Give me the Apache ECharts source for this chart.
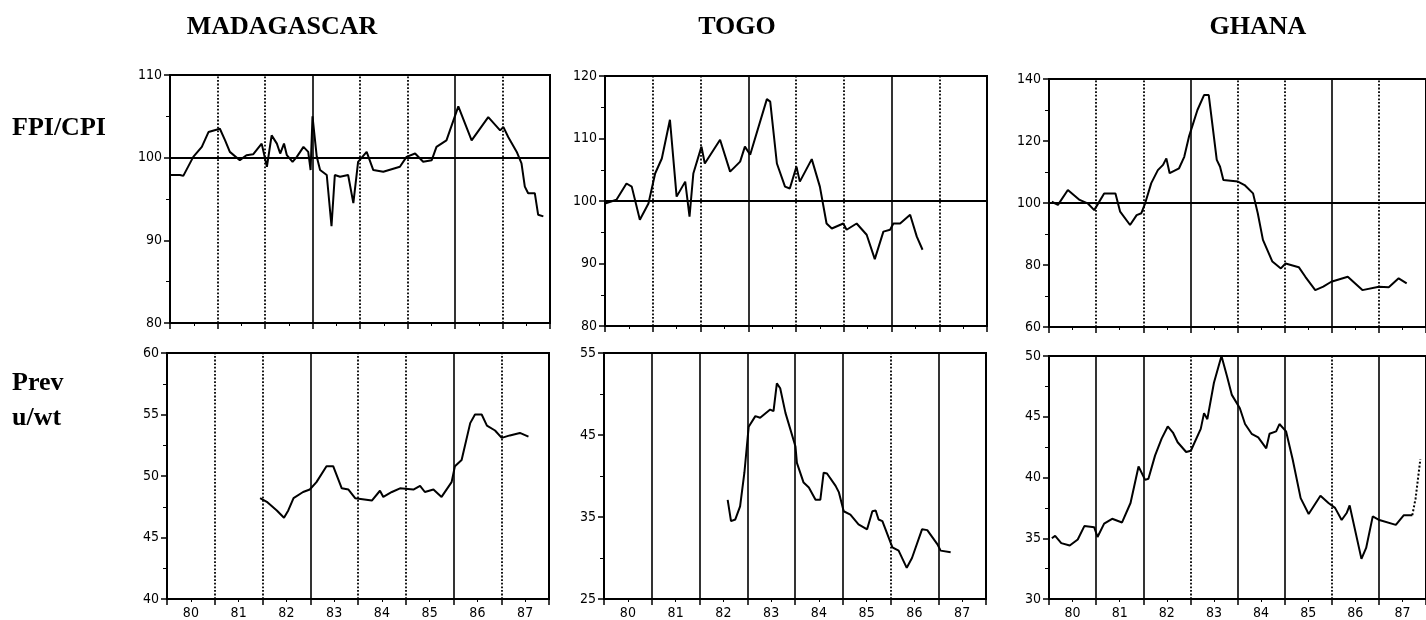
<!DOCTYPE html>
<html>
<head>
<meta charset="utf-8">
<script src="https://cdn.jsdelivr.net/npm/echarts@6/dist/echarts.min.js"></script>
<style>
html,body{margin:0;padding:0;background:#fff;}
#chart{width:1426px;height:620px;}
</style>
</head>
<body>
<div id="chart"></div>
<script>
// ---------- DATA ----------
const countries = ['MADAGASCAR', 'TOGO', 'GHANA'];
const rowLabelTop = 'FPI/CPI';
const rowLabelBottom = ['Prev', 'u/wt'];
const yearTickValues = [1981, 1982, 1983, 1984, 1985, 1986, 1987];
const yearLabels = ['80', '81', '82', '83', '84', '85', '86', '87'];

const madagascarFpiCpi = [
  [1980.02,97.9],[1980.21,97.9],[1980.28,97.8],[1980.49,100.1],[1980.67,101.3],[1980.81,103.1],
  [1981.05,103.5],[1981.16,102.1],[1981.26,100.7],[1981.47,99.7],[1981.61,100.3],[1981.75,100.4],
  [1981.93,101.7],[1982.04,98.9],[1982.14,102.7],[1982.25,101.7],[1982.32,100.5],[1982.40,101.7],
  [1982.46,100.3],[1982.58,99.5],[1982.67,100.1],[1982.81,101.3],[1982.91,100.7],[1982.96,98.5],
  [1983.00,105.0],[1983.09,100.1],[1983.16,98.5],[1983.30,97.9],[1983.40,91.7],[1983.47,97.9],
  [1983.58,97.7],[1983.75,97.9],[1983.86,94.5],[1983.96,99.5],[1984.14,100.7],[1984.28,98.5],
  [1984.49,98.3],[1984.84,98.9],[1984.98,100.1],[1985.16,100.5],[1985.33,99.5],[1985.51,99.7],
  [1985.61,101.3],[1985.82,102.1],[1986.07,106.2],[1986.35,102.1],[1986.70,104.9],[1986.95,103.3],
  [1987.02,103.7],[1987.12,102.5],[1987.30,100.7],[1987.40,99.3],[1987.47,96.5],[1987.54,95.7],
  [1987.68,95.7],[1987.75,93.1],[1987.86,92.9]
];
const madagascarPrev = [
  [1981.95,48.2],[1982.09,47.9],[1982.30,47.2],[1982.45,46.6],[1982.54,47.2],[1982.65,48.2],
  [1982.85,48.7],[1982.99,48.9],[1983.13,49.5],[1983.34,50.8],[1983.48,50.8],[1983.66,49.0],
  [1983.80,48.9],[1983.94,48.2],[1984.29,48.0],[1984.46,48.8],[1984.53,48.3],[1984.71,48.7],
  [1984.88,49.0],[1985.16,48.9],[1985.30,49.2],[1985.40,48.7],[1985.58,48.9],[1985.75,48.3],
  [1985.96,49.5],[1986.03,50.8],[1986.17,51.3],[1986.35,54.3],[1986.45,55.0],[1986.59,55.0],
  [1986.70,54.1],[1986.87,53.7],[1987.01,53.1],[1987.18,53.3],[1987.39,53.5],[1987.57,53.2]
];
const togoFpiCpi = [
  [1980.00,99.6],[1980.24,100.2],[1980.45,102.8],[1980.56,102.3],[1980.73,97.0],[1980.91,99.6],
  [1981.05,104.4],[1981.19,106.8],[1981.36,113.0],[1981.50,100.7],[1981.68,103.1],[1981.77,97.5],
  [1981.85,104.4],[1982.02,108.7],[1982.09,106.0],[1982.41,109.8],[1982.62,104.7],[1982.83,106.3],
  [1982.93,108.7],[1983.04,107.4],[1983.39,116.3],[1983.46,115.9],[1983.60,106.0],[1983.77,102.3],
  [1983.87,102.0],[1984.01,105.5],[1984.08,103.1],[1984.33,106.7],[1984.50,102.3],[1984.64,96.4],
  [1984.75,95.6],[1984.99,96.4],[1985.06,95.4],[1985.27,96.4],[1985.48,94.6],[1985.65,90.7],
  [1985.83,95.1],[1985.97,95.4],[1986.04,96.4],[1986.18,96.4],[1986.39,97.8],[1986.53,94.3],
  [1986.65,92.2]
];
const togoPrev = [
  [1982.59,37.1],[1982.66,34.5],[1982.75,34.7],[1982.85,36.3],[1982.94,40.4],[1983.03,46.0],
  [1983.17,47.3],[1983.27,47.1],[1983.48,48.1],[1983.55,47.9],[1983.62,51.3],[1983.69,50.7],
  [1983.80,47.7],[1984.01,43.6],[1984.04,41.6],[1984.18,39.2],[1984.29,38.6],[1984.43,37.1],
  [1984.53,37.1],[1984.60,40.4],[1984.67,40.3],[1984.85,38.8],[1984.92,38.0],[1985.02,35.7],
  [1985.16,35.3],[1985.33,34.1],[1985.51,33.5],[1985.62,35.7],[1985.69,35.8],[1985.75,34.7],
  [1985.83,34.5],[1986.04,31.3],[1986.17,30.9],[1986.34,28.8],[1986.45,30.0],[1986.66,33.5],
  [1986.77,33.4],[1986.98,31.7],[1987.05,30.9],[1987.26,30.7]
];
const ghanaFpiCpi = [
  [1980.06,100.4],[1980.19,99.4],[1980.40,104.2],[1980.65,101.0],[1980.82,99.9],[1980.96,97.7],
  [1981.17,103.1],[1981.41,103.1],[1981.51,97.2],[1981.72,92.9],[1981.86,96.1],[1981.96,96.7],
  [1982.04,99.9],[1982.17,106.4],[1982.31,110.6],[1982.42,112.3],[1982.49,114.4],[1982.56,109.6],
  [1982.76,111.2],[1982.87,114.9],[1982.97,121.4],[1983.15,130.0],[1983.29,134.8],[1983.39,134.8],
  [1983.56,113.9],[1983.63,111.7],[1983.70,107.4],[1984.01,106.9],[1984.15,105.8],[1984.33,103.1],
  [1984.43,96.7],[1984.54,88.1],[1984.74,81.1],[1984.92,78.9],[1985.02,80.5],[1985.30,79.3],
  [1985.44,76.2],[1985.65,71.9],[1985.82,73.0],[1985.99,74.6],[1986.34,76.2],[1986.65,71.9],
  [1987.00,73.0],[1987.21,72.8],[1987.42,75.7],[1987.59,74.1]
];
const ghanaPrev = [
  [1980.06,35.0],[1980.13,35.2],[1980.26,34.6],[1980.44,34.4],[1980.61,34.9],[1980.75,36.0],
  [1980.96,35.9],[1981.03,35.1],[1981.17,36.2],[1981.34,36.6],[1981.55,36.3],[1981.73,37.9],
  [1981.90,40.9],[1982.04,39.8],[1982.11,39.9],[1982.25,41.8],[1982.39,43.2],[1982.52,44.2],
  [1982.63,43.7],[1982.73,42.9],[1982.91,42.1],[1983.01,42.2],[1983.22,44.0],[1983.29,45.3],
  [1983.36,44.8],[1983.50,47.8],[1983.66,50.0],[1983.78,48.3],[1983.88,46.8],[1984.05,45.7],
  [1984.16,44.4],[1984.30,43.6],[1984.44,43.3],[1984.61,42.4],[1984.68,43.6],[1984.82,43.8],
  [1984.89,44.4],[1985.03,43.8],[1985.17,41.5],[1985.34,38.3],[1985.51,37.0],[1985.76,38.5],
  [1985.93,37.9],[1986.07,37.5],[1986.21,36.5],[1986.32,37.1],[1986.38,37.7],[1986.63,33.3],
  [1986.73,34.2],[1986.87,36.8],[1987.01,36.5],[1987.36,36.1],[1987.53,36.9],[1987.71,36.9]
];
const ghanaPrevDotted = [[1987.71,36.9],[1987.78,38.3],[1987.88,41.5]];

// ---------- LAYOUT / STYLE ----------
const S = 'solid', D = 'dotted';
const panels = [
  {grid:{left:170,top:75,width:380,height:248}, y:[80,110,10], data:madagascarFpiCpi, ref:100, v:[D,D,S,D,D,S,D], labels:false},
  {grid:{left:167,top:353,width:382,height:246}, y:[40,60,5], data:madagascarPrev, v:[D,D,S,D,D,S,D], labels:true},
  {grid:{left:605,top:76,width:382,height:250}, y:[80,120,10], data:togoFpiCpi, ref:100, v:[D,D,S,D,D,S,D], labels:false},
  {grid:{left:604,top:353,width:382,height:247}, y:[25,55,10], data:togoPrev, v:[S,S,S,S,S,D,S], labels:true},
  {grid:{left:1049,top:79,width:384,height:248}, y:[60,140,20], data:ghanaFpiCpi, ref:100, v:[D,D,S,D,D,S,D], labels:false},
  {grid:{left:1049,top:356,width:384,height:246}, y:[30,50,5], data:ghanaPrev, extra:ghanaPrevDotted, v:[S,S,D,S,S,D,S], labels:true}
];

const tickFont = '"DejaVu Sans Condensed","Liberation Sans Narrow","DejaVu Sans",sans-serif';
const grids = [], xAxes = [], yAxes = [], series = [];
panels.forEach((p, i) => {
  grids.push(Object.assign({show:true, borderColor:'#000', borderWidth:2, backgroundColor:'transparent'}, p.grid));
  xAxes.push({
    type:'value', gridIndex:i, min:1980, max:1988, interval:1, position:'bottom',
    axisLine:{show:true, lineStyle:{color:'#000', width:2}},
    axisTick:{show:true, length:6, lineStyle:{color:'#000', width:1.5}},
    minorTick:{show:true, splitNumber:2, length:3, lineStyle:{color:'#000', width:1}},
    axisLabel:{show:false}, splitLine:{show:false}
  });
  xAxes.push({
    type:'category', gridIndex:i, data:yearLabels, boundaryGap:true, position:'bottom', offset:0,
    axisLine:{show:false}, axisTick:{show:false}, splitLine:{show:false},
    axisLabel:{show:p.labels, margin:7, color:'#000', fontSize:14, fontFamily:tickFont}
  });
  yAxes.push({
    type:'value', gridIndex:i, min:p.y[0], max:p.y[1], interval:p.y[2],
    axisLine:{show:true, lineStyle:{color:'#000', width:2}},
    axisTick:{show:true, length:6, lineStyle:{color:'#000', width:1.5}},
    minorTick:{show:true, splitNumber:2, length:4, lineStyle:{color:'#000', width:1}},
    splitLine:{show:false},
    axisLabel:{color:'#000', fontSize:14, margin:8, fontFamily:tickFont}
  });
  const ml = yearTickValues.map((yr, k) => ({xAxis:yr, lineStyle:{type:p.v[k], width:p.v[k]===S?1.6:1.8, color:'#000'}}));
  if (p.ref !== undefined) ml.push({yAxis:p.ref, lineStyle:{type:'solid', width:2, color:'#000'}});
  series.push({
    type:'line', xAxisIndex:2*i, yAxisIndex:i, data:p.data, showSymbol:false, symbol:'none',
    lineStyle:{color:'#000', width:2}, z:3,
    markLine:{silent:true, symbol:['none','none'], label:{show:false}, data:ml, animation:false}
  });
  if (p.extra) {
    series.push({
      type:'line', xAxisIndex:2*i, yAxisIndex:i, data:p.extra, showSymbol:false, symbol:'none',
      lineStyle:{color:'#000', width:2, type:'dotted'}, clip:false
    });
  }
});

const titleFont = '"Liberation Serif","Times New Roman",serif';
const titleX = [282, 737, 1258];
const graphics = countries.map((c, k) => ({
  type:'text', x:titleX[k], y:27, style:{text:c, font:'bold 26px ' + titleFont, fill:'#000', textAlign:'center', textVerticalAlign:'middle'}
}));
graphics.push({type:'text', x:12, y:128, style:{text:rowLabelTop, font:'bold 26px ' + titleFont, fill:'#000', textAlign:'left', textVerticalAlign:'middle'}});
graphics.push({type:'text', x:12, y:383, style:{text:rowLabelBottom[0], font:'bold 26px ' + titleFont, fill:'#000', textAlign:'left', textVerticalAlign:'middle'}});
graphics.push({type:'text', x:12, y:418, style:{text:rowLabelBottom[1], font:'bold 26px ' + titleFont, fill:'#000', textAlign:'left', textVerticalAlign:'middle'}});

const chart = echarts.init(document.getElementById('chart'), null, {renderer:'canvas'});
chart.setOption({
  animation:false,
  backgroundColor:'#fff',
  grid:grids, xAxis:xAxes, yAxis:yAxes, series:series,
  graphic:graphics
});
</script>
</body>
</html>
